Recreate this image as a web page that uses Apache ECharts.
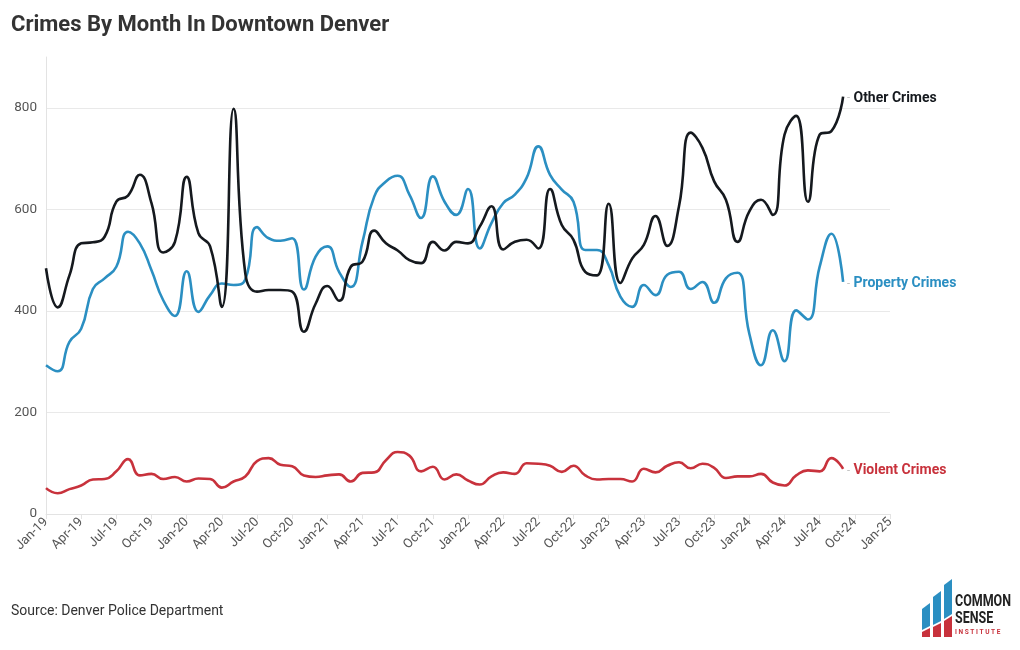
<!DOCTYPE html>
<html>
<head>
<meta charset="utf-8">
<script src="https://cdn.jsdelivr.net/npm/echarts@6/dist/echarts.min.js"></script>
<style>
html,body{margin:0;padding:0;background:#fff;}
#chart{width:1020px;height:650px;}
</style>
</head>
<body>
<div id="chart"></div>
<script>
const months = [
  'Jan-19','Feb-19','Mar-19','Apr-19','May-19','Jun-19','Jul-19','Aug-19','Sep-19','Oct-19','Nov-19','Dec-19',
  'Jan-20','Feb-20','Mar-20','Apr-20','May-20','Jun-20','Jul-20','Aug-20','Sep-20','Oct-20','Nov-20','Dec-20',
  'Jan-21','Feb-21','Mar-21','Apr-21','May-21','Jun-21','Jul-21','Aug-21','Sep-21','Oct-21','Nov-21','Dec-21',
  'Jan-22','Feb-22','Mar-22','Apr-22','May-22','Jun-22','Jul-22','Aug-22','Sep-22','Oct-22','Nov-22','Dec-22',
  'Jan-23','Feb-23','Mar-23','Apr-23','May-23','Jun-23','Jul-23','Aug-23','Sep-23','Oct-23','Nov-23','Dec-23',
  'Jan-24','Feb-24','Mar-24','Apr-24','May-24','Jun-24','Jul-24','Aug-24','Sep-24','Oct-24','Nov-24','Dec-24',
  'Jan-25'
];
const otherCrimes = [
  484,407,470,533,535,546,615,627,668,612,515,536,
  664,553,527,408,798,474,438,441,441,438,359,414,
  449,420,487,497,558,533,519,500,494,536,519,536,
  533,566,606,521,536,540,523,640,569,540,477,470,
  611,455,503,530,587,528,606,751,721,655,619,536,
  596,619,589,747,784,615,747,754,822
];
const propertyCrimes = [
  293,281,339,365,443,464,487,556,533,480,421,390,
  478,398,431,454,451,462,565,543,538,543,442,507,
  527,477,447,536,625,655,666,629,583,665,615,589,
  640,523,573,612,629,662,724,668,639,615,520,520,
  490,428,408,451,431,471,477,443,457,416,464,475,
  355,293,362,301,401,383,487,552,457
];
const violentCrimes = [
  51,41,49,56,68,69,84,108,76,79,69,73,
  64,70,69,52,64,74,104,110,97,94,76,73,
  76,78,64,81,82,106,122,115,84,93,68,78,
  66,58,74,82,79,100,99,95,83,95,76,68,
  69,69,64,89,82,95,102,90,99,91,71,74,
  74,79,62,56,76,86,84,110,89
];
const seriesNames = ['Other Crimes','Property Crimes','Violent Crimes'];
const seriesColors = ['#15191e','#2b8fc2','#c8323c'];
const yTicks = [0,200,400,600,800];

const chart = echarts.init(document.getElementById('chart'));
const font = 'Roboto, "Noto Sans", sans-serif';

function mkSeries(name, data, color) {
  return {
    name: name, type: 'line', data: data, smooth: 0.5, showSymbol: false,
    lineStyle: {color: color, width: 2.6}, itemStyle: {color: color},
    endLabel: {
      show: true, distance: 4, offset: [0, 2],
      formatter: '{d|-} {n|' + name + '}',
      rich: {
        d: {color: '#bbb', fontSize: 11, fontFamily: font},
        n: {color: color, fontSize: 14, fontWeight: 'bold', fontFamily: font}
      }
    },
    emphasis: {disabled: true}
  };
}

chart.setOption({
  animation: false,
  backgroundColor: '#fff',
  title: {
    text: 'Crimes By Month In Downtown Denver',
    left: 6, top: 9,
    textStyle: {fontFamily: font, fontSize: 22, fontWeight: 'bold', color: '#333'}
  },
  grid: {left: 46, right: 130, top: 57, bottom: 136},
  xAxis: {
    type: 'category', data: months, boundaryGap: false,
    axisLine: {lineStyle: {color: '#e3e3e3'}},
    axisTick: {show: true, interval: 2, length: 5, lineStyle: {color: '#e3e3e3'}},
    axisLabel: {interval: 2, rotate: 45, color: '#555', fontSize: 13, fontFamily: font, margin: 6},
    splitLine: {show: false}
  },
  yAxis: {
    type: 'value', min: 0, max: 900, interval: 100,
    axisLine: {show: true, lineStyle: {color: '#e3e3e3'}},
    axisTick: {show: false},
    axisLabel: {
      color: '#555', fontSize: 13.5, fontFamily: font, margin: 9,
      formatter: function (v) { return yTicks.indexOf(v) >= 0 ? String(v) : ''; }
    },
    splitLine: {show: true, lineStyle: {color: ['#e9e9e9', 'rgba(0,0,0,0)'], width: 1}}
  },
  series: [
    mkSeries(seriesNames[1], propertyCrimes, seriesColors[1]),
    mkSeries(seriesNames[2], violentCrimes, seriesColors[2]),
    mkSeries(seriesNames[0], otherCrimes, seriesColors[0])
  ],
  graphic: [
    {type: 'text', left: 11, top: 604,
     style: {text: 'Source: Denver Police Department', fill: '#333', font: '14px ' + font}},
    {type: 'polygon', shape: {points: [[922,609],[930,603],[930,626],[922,630]]}, style: {fill: '#2b8fc2'}},
    {type: 'polygon', shape: {points: [[933,597],[941,591],[941,621],[933,625]]}, style: {fill: '#2b8fc2'}},
    {type: 'polygon', shape: {points: [[944,585],[952,579],[952,614],[944,619]]}, style: {fill: '#2b8fc2'}},
    {type: 'polygon', shape: {points: [[922,632],[930,628],[930,637],[922,637]]}, style: {fill: '#c8323c'}},
    {type: 'polygon', shape: {points: [[933,627],[941,623],[941,637],[933,637]]}, style: {fill: '#c8323c'}},
    {type: 'polygon', shape: {points: [[944,621],[952,616],[952,637],[944,637]]}, style: {fill: '#c8323c'}},
    {type: 'text', x: 955, y: 594, scaleX: 0.78,
     style: {text: 'COMMON', fill: '#222', font: 'bold 16px ' + font}},
    {type: 'text', x: 955, y: 611, scaleX: 0.78,
     style: {text: 'SENSE', fill: '#222', font: 'bold 16px ' + font}},
    {type: 'text', x: 955, y: 629,
     style: {text: 'I N S T I T U T E', fill: '#c8323c', font: 'bold 6.5px ' + font}}
  ]
});
</script>
</body>
</html>
